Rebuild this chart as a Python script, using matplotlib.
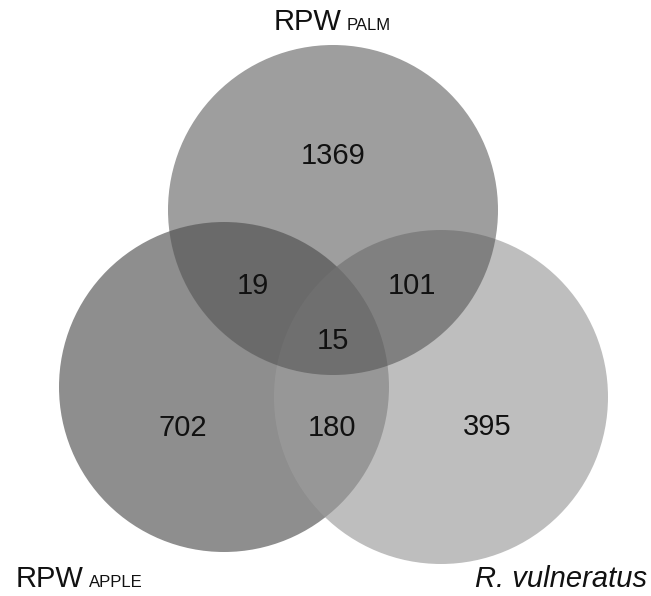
import numpy as np
import matplotlib.pyplot as plt
from matplotlib.patches import Circle

# region counts of the Venn diagram
sets = ['RPW PALM', 'RPW APPLE', 'R. vulneratus']
only_palm = 1369
only_apple = 702
only_vuln = 395
palm_apple = 19
palm_vuln = 101
apple_vuln = 180
all_three = 15

plt.rcParams['font.family'] = ['Liberation Sans', 'DejaVu Sans']

fig = plt.figure(figsize=(6.51, 5.96), dpi=100)
ax = fig.add_axes([0, 0, 1, 1])
ax.set_xlim(0, 651)
ax.set_ylim(596, 0)
ax.set_aspect('equal')
ax.axis('off')

# circles: left (apple) opaque, right (vulneratus) and top (palm) blended on top
ax.add_patch(Circle((224, 387), 165, fc='#8e8e8e', ec='none', zorder=1))
ax.add_patch(Circle((441, 397), 167, fc='#9d9d9d', ec='none', alpha=0.66, zorder=2))
ax.add_patch(Circle((333, 210), 165, fc='#4e4e4e', ec='none', alpha=0.55, zorder=3))

fs = 21
nums = [
    (only_palm, 333, 164),
    (palm_apple, 253, 294),
    (palm_vuln, 412, 294),
    (all_three, 333, 349),
    (only_apple, 183, 436),
    (apple_vuln, 332, 436),
    (only_vuln, 487, 435),
]
for n, x, y in nums:
    ax.text(x, y, str(n), fontsize=fs, ha='center', va='baseline', color='#111111', zorder=5)

# set labels
ax.text(341, 30, 'RPW', fontsize=fs, ha='right', va='baseline', color='#111111')
ax.text(347, 30, 'PALM', fontsize=12, ha='left', va='baseline', color='#111111')
ax.text(84, 587, 'RPW', fontsize=fs, ha='right', va='baseline', color='#111111')
ax.text(89, 587, 'APPLE', fontsize=12, ha='left', va='baseline', color='#111111')
ax.text(647, 587, 'R. vulneratus', fontsize=fs, ha='right', va='baseline',
        style='italic', color='#111111')

fig.savefig('out.png', dpi=100, facecolor='white')
